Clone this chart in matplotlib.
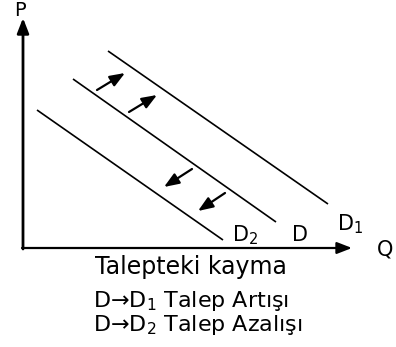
"""Talepteki kayma: demand curve shifts D -> D1 / D -> D2."""

import matplotlib.pyplot as plt

plt.rcParams["font.family"] = ["DejaVu Sans"]
plt.rcParams["mathtext.fontset"] = "dejavusans"

# demand curves, (x, y) endpoints in diagram units (origin = axis corner)
curve_names = ["D$_2$", "D", "D$_1$"]
curve_start = [(14, 138), (50, 169), (85, 197)]
curve_end = [(200, 8), (253, 26), (305, 44)]
label_pos = [(209, 13), (269, 13), (314, 24)]

# shift arrows (tail -> head)
shift_tail = [(74, 158), (106, 136), (169, 79), (202, 55)]
shift_head = [(102, 175), (134, 153), (141, 61), (175, 37)]

axis_top = 230
axis_right = 329

title = "Talepteki kayma"
notes = ["D\u2192D$_1$ Talep Artışı", "D\u2192D$_2$ Talep Azalışı"]

fig = plt.figure(figsize=(3.96, 3.47), dpi=100)
ax = fig.add_axes([0, 0, 1, 1])
ax.set_xlim(-23, 373)
ax.set_ylim(-99, 248)
ax.axis("off")

# axes with arrow heads
ax.annotate("", xy=(0, axis_top), xytext=(0, -1),
            arrowprops=dict(arrowstyle="-|>,head_length=0.9,head_width=0.35",
                            lw=2, color="black", shrinkA=0, shrinkB=0))
ax.annotate("", xy=(axis_right, 0), xytext=(-1, 0),
            arrowprops=dict(arrowstyle="-|>,head_length=0.9,head_width=0.35",
                            lw=1.6, color="black", shrinkA=0, shrinkB=0))
ax.text(-3, 238, "P", fontsize=14, ha="center", va="center")
ax.text(axis_right + 33, -2, "Q", fontsize=15, ha="center", va="center")

for name, (x0, y0), (x1, y1), (lx, ly) in zip(curve_names, curve_start,
                                              curve_end, label_pos):
    ax.plot([x0, x1], [y0, y1], color="black", lw=1.2, solid_capstyle="butt")
    ax.text(lx, ly, name, fontsize=15, ha="left", va="center")

for tail, head in zip(shift_tail, shift_head):
    ax.annotate("", xy=head, xytext=tail,
                arrowprops=dict(arrowstyle="-|>,head_length=0.9,head_width=0.35",
                                lw=1.6, color="black", shrinkA=0, shrinkB=0))

ax.text(168, -19, title, fontsize=17, ha="center", va="center")
ax.text(70, -53, notes[0], fontsize=16, ha="left", va="center")
ax.text(70, -77, notes[1], fontsize=16, ha="left", va="center")

fig.savefig("out.png", dpi=100)
